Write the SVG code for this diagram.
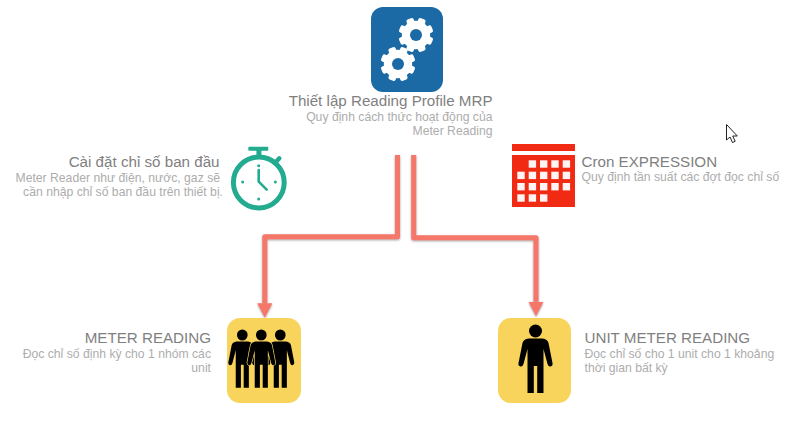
<svg xmlns="http://www.w3.org/2000/svg" xmlns:xlink="http://www.w3.org/1999/xlink" width="795" height="429" viewBox="0 0 795 429">
  <style>
    text { font-family: "Liberation Sans", Arial, sans-serif; }
    .title { font-size: 15.17px; fill: #7f7f7f; }
    .sub { font-size: 12.2px; fill: #adadad; }
    .end { text-anchor: end; }
    .wire { fill: none; stroke: #f5776a; stroke-width: 5; stroke-linejoin: round; }
    .tile { fill: #f9d45c; }
    .gear-part { fill: #ffffff; }
  </style>
  <defs>
    <filter id="soft-shadow" x="-10%" y="-10%" width="120%" height="120%">
      <feDropShadow dx="0" dy="1" stdDeviation="0.9" flood-color="#555555" flood-opacity="0.55"/>
    </filter>
    <marker id="arrow" markerUnits="userSpaceOnUse" markerWidth="16" markerHeight="16" refX="0" refY="7.5" orient="auto">
      <path d="M0,0 L14.5,7.5 L0,15 Z" fill="#f5776a"/>
    </marker>
    <g id="gear">
      <circle class="gear-part" r="14.2"/>
      <g class="gear-part">
        <rect x="-3.8" y="-17.5" width="7.6" height="35" rx="2" transform="rotate(22.5)"/>
        <rect x="-3.8" y="-17.5" width="7.6" height="35" rx="2" transform="rotate(67.5)"/>
        <rect x="-3.8" y="-17.5" width="7.6" height="35" rx="2" transform="rotate(112.5)"/>
        <rect x="-3.8" y="-17.5" width="7.6" height="35" rx="2" transform="rotate(157.5)"/>
      </g>
      <circle r="6" fill="#1b6aa5"/>
    </g>
    <g id="person">
      <circle cx="0" cy="0" r="6.5"/>
      <path d="M-7,7.5 L7,7.5 Q12,8 13,12 L17,32 Q17.5,35 15,35.5 Q13,36 12,33 L8,18 L8,62 L1.7,62 L1.7,35 L-1.7,35 L-1.7,62 L-8,62 L-8,18 L-12,33 Q-13,36 -15,35.5 Q-17.5,35 -17,32 L-13,12 Q-12,8 -7,7.5 Z"/>
    </g>
  </defs>

  <rect width="795" height="429" fill="#ffffff"/>

  <!-- connectors -->
  <g id="connectors" filter="url(#soft-shadow)">
    <path class="wire" d="M397.5,155 V236.8 H264.8 V303.3" marker-end="url(#arrow)"/>
    <path class="wire" d="M413.7,155 V237.7 H536 V301.7" marker-end="url(#arrow)"/>
  </g>

  <!-- reading profile -->
  <g id="node-profile">
    <rect x="371" y="7" width="72" height="85" rx="12" fill="#1b6aa5"/>
    <use xlink:href="#gear" href="#gear" transform="translate(416,35)"/>
    <use xlink:href="#gear" href="#gear" transform="translate(398,64)"/>
    <text class="title end" x="492.5" y="106">Thiết lập Reading Profile MRP</text>
    <text class="sub end" x="492.5" y="121">Quy định cách thức hoạt động của</text>
    <text class="sub end" x="492.5" y="135">Meter Reading</text>
  </g>

  <!-- initial index -->
  <g id="node-initial">
    <text class="title end" x="219.5" y="167">Cài đặt chỉ số ban đầu</text>
    <text class="sub end" x="220" y="182">Meter Reader như điện, nước, gaz sẽ</text>
    <text class="sub end" x="223" y="196">cần nhập chỉ số ban đầu trên thiết bị.</text>
    <g fill="#23ab90" stroke="none">
      <circle cx="258.8" cy="182.5" r="25.4" fill="none" stroke="#23ab90" stroke-width="5"/>
      <rect x="248.3" y="146.7" width="20" height="4" rx="1"/>
      <rect x="256.4" y="150" width="5" height="8"/>
      <path d="M275,163 L279.3,158.3" fill="none" stroke="#23ab90" stroke-width="4.5" stroke-linecap="round"/>
      <path d="M258.7,170 V181.7 L266.7,189.7" fill="none" stroke="#23ab90" stroke-width="2.6" stroke-linecap="round" stroke-linejoin="round"/>
      <circle cx="258.7" cy="165.7" r="1.5"/>
      <circle cx="275.3" cy="182" r="1.5"/>
      <circle cx="242.7" cy="182" r="1.5"/>
      <circle cx="258.7" cy="199" r="1.5"/>
    </g>
  </g>

  <!-- cron expression -->
  <g id="node-cron">
    <rect x="512" y="144" width="63" height="7" fill="#f12a14"/>
    <rect x="512" y="155" width="63" height="52" fill="#f12a14"/>
    <g fill="#ffffff" opacity="0.95">
      <rect x="528.7" y="160.3" width="7.4" height="7.4"/>
      <rect x="540" y="160.3" width="7.4" height="7.4"/>
      <rect x="551.3" y="160.3" width="7.4" height="7.4"/>
      <rect x="562.7" y="160.3" width="7.4" height="7.4"/>
      <rect x="517.3" y="171.7" width="7.4" height="7.4"/>
      <rect x="528.7" y="171.7" width="7.4" height="7.4"/>
      <rect x="540" y="171.7" width="7.4" height="7.4"/>
      <rect x="551.3" y="171.7" width="7.4" height="7.4"/>
      <rect x="562.7" y="171.7" width="7.4" height="7.4"/>
      <rect x="517.3" y="183" width="7.4" height="7.4"/>
      <rect x="528.7" y="183" width="7.4" height="7.4"/>
      <rect x="540" y="183" width="7.4" height="7.4"/>
      <rect x="551.3" y="183" width="7.4" height="7.4"/>
      <rect x="562.7" y="183" width="7.4" height="7.4"/>
      <rect x="517.3" y="194.3" width="7.4" height="7.4"/>
      <rect x="528.7" y="194.3" width="7.4" height="7.4"/>
      <rect x="540" y="194.3" width="7.4" height="7.4"/>
    </g>
    <text class="title" x="581.5" y="167">Cron EXPRESSION</text>
    <text class="sub" x="581.5" y="181">Quy định tần suất các đợt đọc chỉ số</text>
  </g>

  <!-- meter reading -->
  <g id="node-meter">
    <rect class="tile" x="227" y="318" width="74" height="85" rx="13"/>
    <use xlink:href="#person" href="#person" transform="translate(242.3,335) scale(0.82,0.85)"/>
    <use xlink:href="#person" href="#person" transform="translate(280.3,335) scale(0.82,0.85)"/>
    <use xlink:href="#person" href="#person" transform="translate(261.3,335) scale(0.82,0.85)" stroke="#f9d45c" stroke-width="1.6" paint-order="stroke"/>
    <text class="title end" x="211" y="343">METER READING</text>
    <text class="sub end" x="211" y="358">Đọc chỉ số định kỳ cho 1 nhóm các</text>
    <text class="sub end" x="211" y="372">unit</text>
  </g>

  <!-- unit meter reading -->
  <g id="node-unit">
    <rect class="tile" x="498" y="318" width="73" height="85" rx="13"/>
    <use xlink:href="#person" href="#person" transform="translate(535.5,331)"/>
    <text class="title" x="584.5" y="343">UNIT METER READING</text>
    <text class="sub" x="584.5" y="358">Đọc chỉ số cho 1 unit cho 1 khoảng</text>
    <text class="sub" x="584.5" y="372">thời gian bất kỳ</text>
  </g>

  <!-- pointer -->
  <path id="pointer" d="M726.5,124.5 V140 L730,137 L732.5,142.5 L735.2,141.3 L732.7,136 L737.3,136 Z" fill="#ffffff" stroke="#222222" stroke-width="1"/>
</svg>
